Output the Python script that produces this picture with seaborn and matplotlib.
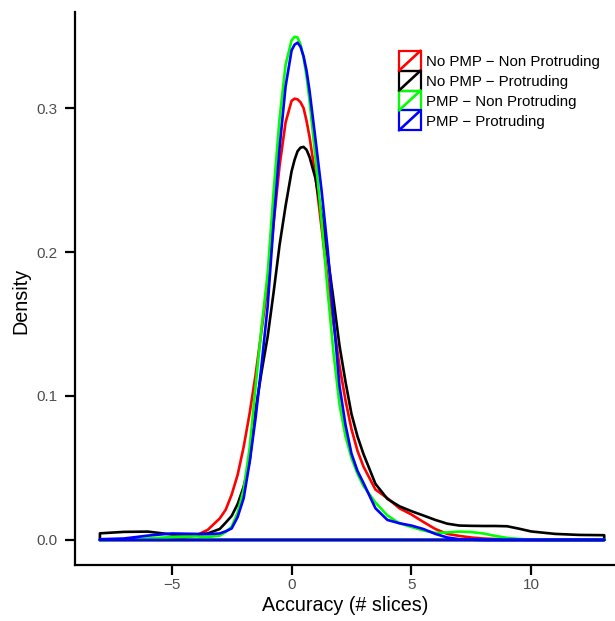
import numpy as np
import pandas as pd
import matplotlib
matplotlib.use("Agg")
import matplotlib.pyplot as plt
import seaborn as sns
from matplotlib.patches import Rectangle
from matplotlib.lines import Line2D

# ---- data (density curves) ----
groups = ["No PMP \u2212 Non Protruding", "No PMP \u2212 Protruding",
          "PMP \u2212 Non Protruding", "PMP \u2212 Protruding"]
colors = ["#FF0000", "#000000", "#00FF00", "#0000FF"]

x_grid = [-8, -7, -6, -5, -4, -3.5, -3,
          -2.75, -2.5, -2.25, -2,
          -1.75, -1.5, -1.25, -1,
          -0.75, -0.5, -0.25, 0,
          0.125, 0.25, 0.375, 0.5, 0.625, 0.75,
          1, 1.25, 1.5, 1.75,
          2, 2.25, 2.5, 2.75,
          3, 3.5, 4, 4.5, 5, 5.5, 6, 6.5, 7, 7.5, 8, 8.5, 9, 9.5, 10,
          11, 12, 13.05]

dens_nopmp_nonprot = [0.0003, 0.0003, 0.0004, 0.0006, 0.003, 0.007, 0.0149,
                      0.021, 0.0315, 0.0453, 0.0646,
                      0.088, 0.115, 0.146, 0.177,
                      0.220, 0.260, 0.290, 0.305,
                      0.3065, 0.306, 0.304, 0.300, 0.291, 0.280,
                      0.252, 0.217, 0.182, 0.150,
                      0.121, 0.097, 0.077, 0.062,
                      0.051, 0.035, 0.029, 0.022, 0.0177, 0.0125, 0.0076, 0.0042,
                      0.0028, 0.0017, 0.001, 0.0006, 0.0003, 0.0002, 0.0001,
                      0.0, 0.0, 0.0]
dens_nopmp_prot = [0.0046, 0.0056, 0.0058, 0.0038, 0.0038, 0.0045, 0.0076,
                   0.012, 0.0167, 0.025, 0.037,
                   0.055, 0.0906, 0.117, 0.141,
                   0.172, 0.205, 0.232, 0.256,
                   0.264, 0.270, 0.2725, 0.273, 0.271, 0.266,
                   0.251, 0.226, 0.198, 0.167,
                   0.135, 0.110, 0.0875, 0.072,
                   0.0597, 0.039, 0.0285, 0.0234, 0.020, 0.017, 0.0139, 0.0113,
                   0.010, 0.0098, 0.0097, 0.0097, 0.0095, 0.0078, 0.0059,
                   0.0042, 0.0035, 0.0033]
dens_pmp_nonprot = [0.0, 0.0003, 0.001, 0.002, 0.0025, 0.002, 0.003,
                    0.0055, 0.0092, 0.019, 0.035,
                    0.064, 0.107, 0.148, 0.185,
                    0.242, 0.293, 0.330, 0.347,
                    0.3495, 0.349, 0.344, 0.335, 0.322, 0.305,
                    0.265, 0.222, 0.174, 0.130,
                    0.094, 0.072, 0.057, 0.046,
                    0.0375, 0.026, 0.017, 0.0116, 0.009, 0.0066, 0.0049, 0.0052,
                    0.0058, 0.0055, 0.0045, 0.0028, 0.0014, 0.0007, 0.0003,
                    0.0, 0.0, 0.0]
dens_pmp_prot = [0.0005, 0.001, 0.003, 0.0045, 0.0042, 0.004, 0.0045,
                 0.006, 0.008, 0.016, 0.029,
                 0.054, 0.085, 0.122, 0.162,
                 0.220, 0.2726, 0.315, 0.340,
                 0.344, 0.3454, 0.3425, 0.336, 0.326, 0.312,
                 0.278, 0.243, 0.203, 0.155,
                 0.107, 0.080, 0.060, 0.048,
                 0.0396, 0.022, 0.0139, 0.0116, 0.010, 0.0076, 0.0042, 0.0017,
                 0.0005, 0.0002, 0.0, 0.0, 0.0, 0.0, 0.0,
                 0.0, 0.0, 0.0]

x_ticks = [-5, 0, 5, 10]
y_ticks = [0.0, 0.1, 0.2, 0.3]
y_ticklabels = ["0.0", "0.1", "0.2", "0.3"]

# ---- build closed density outlines (like ggplot geom_density with no fill) ----
series = [dens_nopmp_nonprot, dens_nopmp_prot, dens_pmp_nonprot, dens_pmp_prot]
rows = []
for g, vals in zip(groups, series):
    xs = [x_grid[0]] + list(x_grid) + [x_grid[-1], x_grid[0]]
    ys = [0.0] + list(vals) + [0.0, 0.0]
    for i, (xx, yy) in enumerate(zip(xs, ys)):
        rows.append({"x": xx, "y": yy, "group": g, "order": i})
df = pd.DataFrame(rows)

sns.set_theme(style="ticks")
plt.rcParams["font.family"] = ["Liberation Sans", "DejaVu Sans"]

W, H = 615, 621
fig = plt.figure(figsize=(W / 100, H / 100), dpi=100)
ax = fig.add_axes([75 / W, 56 / H, 540 / W, 553 / H])

sns.lineplot(data=df, x="x", y="y", hue="group", hue_order=groups,
             palette=dict(zip(groups, colors)), sort=False, estimator=None,
             units="group", linewidth=1.9, legend=False, ax=ax)
for ln in ax.lines:
    ln.set_solid_joinstyle("round")

ax.set_xlim(-9.04, 13.5)
ax.set_ylim(-0.0174, 0.3667)
ax.set_xticks(x_ticks)
ax.set_yticks(y_ticks)
ax.set_yticklabels(y_ticklabels)
ax.set_xlabel("Accuracy (# slices)", fontsize=14.2, color="black")
ax.set_ylabel("Density", fontsize=14.2, color="black")
ax.xaxis.set_label_coords(0.5, (565 - 596) / 553)
ax.yaxis.set_label_coords((30 - 75) / 540, (565 - 301) / 553)

for s in ["top", "right"]:
    ax.spines[s].set_visible(False)
for s in ["left", "bottom"]:
    ax.spines[s].set_linewidth(1.6)
    ax.spines[s].set_color("black")
ax.tick_params(axis="both", length=7.5, width=1.6, color="black",
               labelsize=11, labelcolor="#4D4D4D", direction="out")
ax.tick_params(axis="x", pad=1.8)
ax.tick_params(axis="y", pad=5)

# ---- legend drawn as ggplot-style keys (box with diagonal) ----
box_left, box_top, box_w, box_h = 399, 50.7, 21.5, 19.9
for i, (g, c) in enumerate(zip(groups, colors)):
    top = box_top + i * box_h
    x0 = box_left / W
    y0 = (H - top - box_h) / H
    fig.add_artist(Rectangle((x0, y0), box_w / W, box_h / H, facecolor="none",
                             edgecolor=c, linewidth=1.6, transform=fig.transFigure))
    fig.add_artist(Line2D([x0, x0 + box_w / W], [y0, y0 + box_h / H], color=c,
                          linewidth=1.9, transform=fig.transFigure))
    fig.text((box_left + box_w + 5) / W, (H - top - box_h / 2) / H, g,
             fontsize=10.8, color="black", ha="left", va="center_baseline")

fig.savefig("out.png", dpi=100)
